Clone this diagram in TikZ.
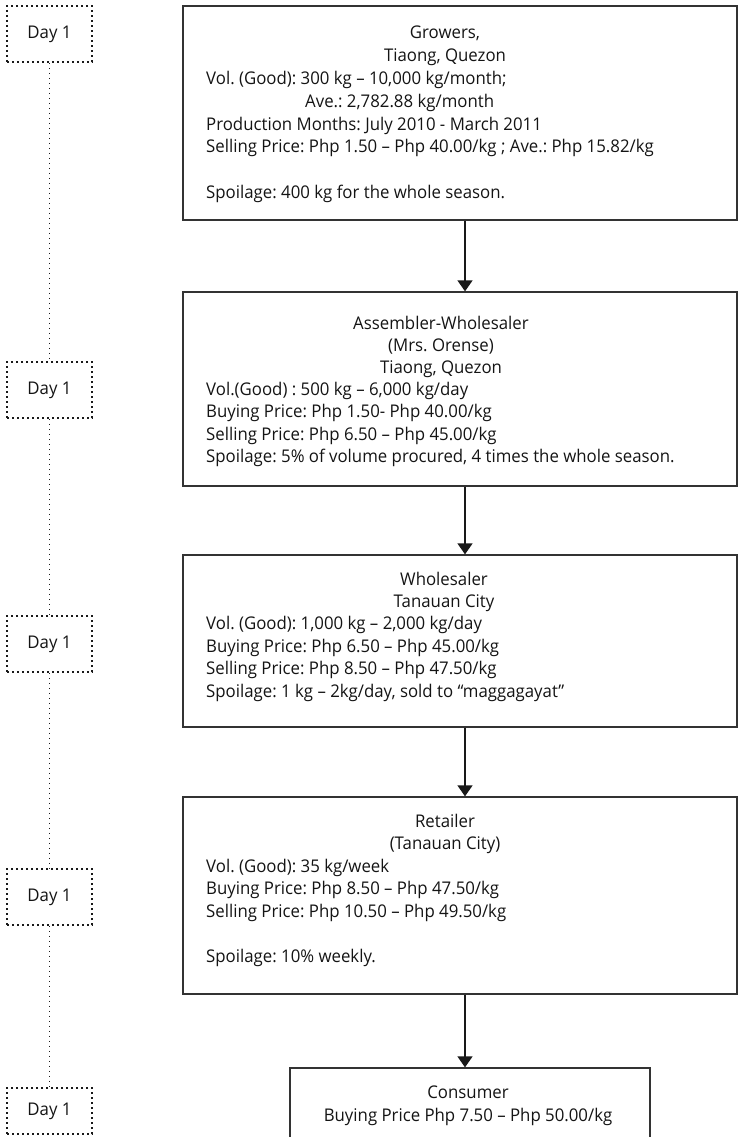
\documentclass[tikz,border=0pt]{standalone}
\usepackage{fontspec}
\setmainfont{Open Sans}[FakeStretch=0.96]
\usetikzlibrary{arrows.meta}
\begin{document}
\frenchspacing
\begin{tikzpicture}[x=1pt,y=-1pt,
  every node/.style={font=\fontsize{17.5}{22}\selectfont, text=black!92, inner sep=0pt},
  flowbox/.style={draw=black!80, line width=1.3pt, rectangle, inner sep=0pt},
  daybox/.style={draw=black!90, line width=1.6pt, dash pattern=on 1.6pt off 3.4pt, rectangle, minimum width=85pt, minimum height=56pt},
  dayline/.style={draw=black!90, line width=1.6pt, dash pattern=on 1.6pt off 3.4pt},
  flowarrow/.style={draw=black!90, line width=1.4pt, -{Triangle[width=15pt,length=11pt]}},
  ltext/.style={anchor=base west},
  ctext/.style={anchor=base}]
\useasboundingbox (0,0) rectangle (738,1137);
% flow boxes
\node[flowbox, minimum width=554pt, minimum height=214pt] (b1) at (460,113) {};
\node[flowbox, minimum width=554pt, minimum height=194pt] (b2) at (460,389) {};
\node[flowbox, minimum width=554pt, minimum height=172pt] (b3) at (460,641) {};
\node[flowbox, minimum width=554pt, minimum height=197pt] (b4) at (460,895.5) {};
\node[flowbox, minimum width=360pt, minimum height=90pt] (b5) at (470,1113) {};
\coordinate (ax) at (465,0);
\draw[flowarrow] (b1.south -| ax) -- (b2.north -| ax);
\draw[flowarrow] (b2.south -| ax) -- (b3.north -| ax);
\draw[flowarrow] (b3.south -| ax) -- (b4.north -| ax);
\draw[flowarrow] (b4.south -| ax) -- (b5.north -| ax);
% box 1
\node[ctext] (t11) at (445,39) {Growers,};
\node[ctext] (t12) at (445,61.8) {Tiaong, Quezon};
\node[ltext] (t13) at (206,84.6) {Vol. (Good): 300 kg – 10,000 kg/month;};
\node[ltext] (t14) at (305,107.4) {Ave.: 2,782.88 kg/month};
\node[ltext] (t15) at (206,130.2) {Production Months: July 2010 - March 2011};
\node[ltext] (t16) at (206,153) {Selling Price: Php 1.50 – Php 40.00/kg ; Ave.: Php 15.82/kg};
\node[ltext] (t17) at (206,198.6) {Spoilage: 400 kg for the whole season.};
% box 2
\node[ctext] (t21) at (441,329) {Assembler-Wholesaler};
\node[ctext] (t22) at (441,351.2) {(Mrs. Orense)};
\node[ctext] (t23) at (441,373.4) {Tiaong, Quezon};
\node[ltext] (t24) at (206,395.6) {Vol.(Good) : 500 kg – 6,000 kg/day};
\node[ltext] (t25) at (206,417.8) {Buying Price: Php 1.50- Php 40.00/kg};
\node[ltext] (t26) at (206,440) {Selling Price: Php 6.50 – Php 45.00/kg};
\node[ltext] (t27) at (206,462.2) {Spoilage: 5\% of volume procured, 4 times the whole season.};
% box 3
\node[ctext] (t31) at (444,585) {Wholesaler};
\node[ctext] (t32) at (444,607.4) {Tanauan City};
\node[ltext] (t33) at (206,629.8) {Vol. (Good): 1,000 kg – 2,000 kg/day};
\node[ltext] (t34) at (206,652.2) {Buying Price: Php 6.50 – Php 45.00/kg};
\node[ltext] (t35) at (206,674.6) {Selling Price: Php 8.50 – Php 47.50/kg};
\node[ltext] (t36) at (206,697) {Spoilage: 1 kg – 2kg/day, sold to “maggagayat”};
% box 4
\node[ctext] (t41) at (445,827) {Retailer};
\node[ctext] (t42) at (445,849.6) {(Tanauan City)};
\node[ltext] (t43) at (206,872.2) {Vol. (Good): 35 kg/week};
\node[ltext] (t44) at (206,894.8) {Buying Price: Php 8.50 – Php 47.50/kg};
\node[ltext] (t45) at (206,917.4) {Selling Price: Php 10.50 – Php 49.50/kg};
\node[ltext] (t46) at (206,962.6) {Spoilage: 10\% weekly.};
% box 5
\node[ctext] (t51) at (468,1098) {Consumer};
\node[ctext] (t52) at (468,1121) {Buying Price Php 7.50 – Php 50.00/kg};
% day boxes
\node[daybox] (d1) at (49.5,34) {Day 1};
\node[daybox] (d2) at (49.5,390) {Day 1};
\node[daybox] (d3) at (49.5,644) {Day 1};
\node[daybox] (d4) at (49.5,897) {Day 1};
\node[daybox, minimum height=46pt] (d5) at (49.5,1111) {Day 1};
\draw[dayline] (d1.south) -- (d2.north);
\draw[dayline] (d2.south) -- (d3.north);
\draw[dayline] (d3.south) -- (d4.north);
\draw[dayline] (d4.south) -- (d5.north);
\end{tikzpicture}
\end{document}
